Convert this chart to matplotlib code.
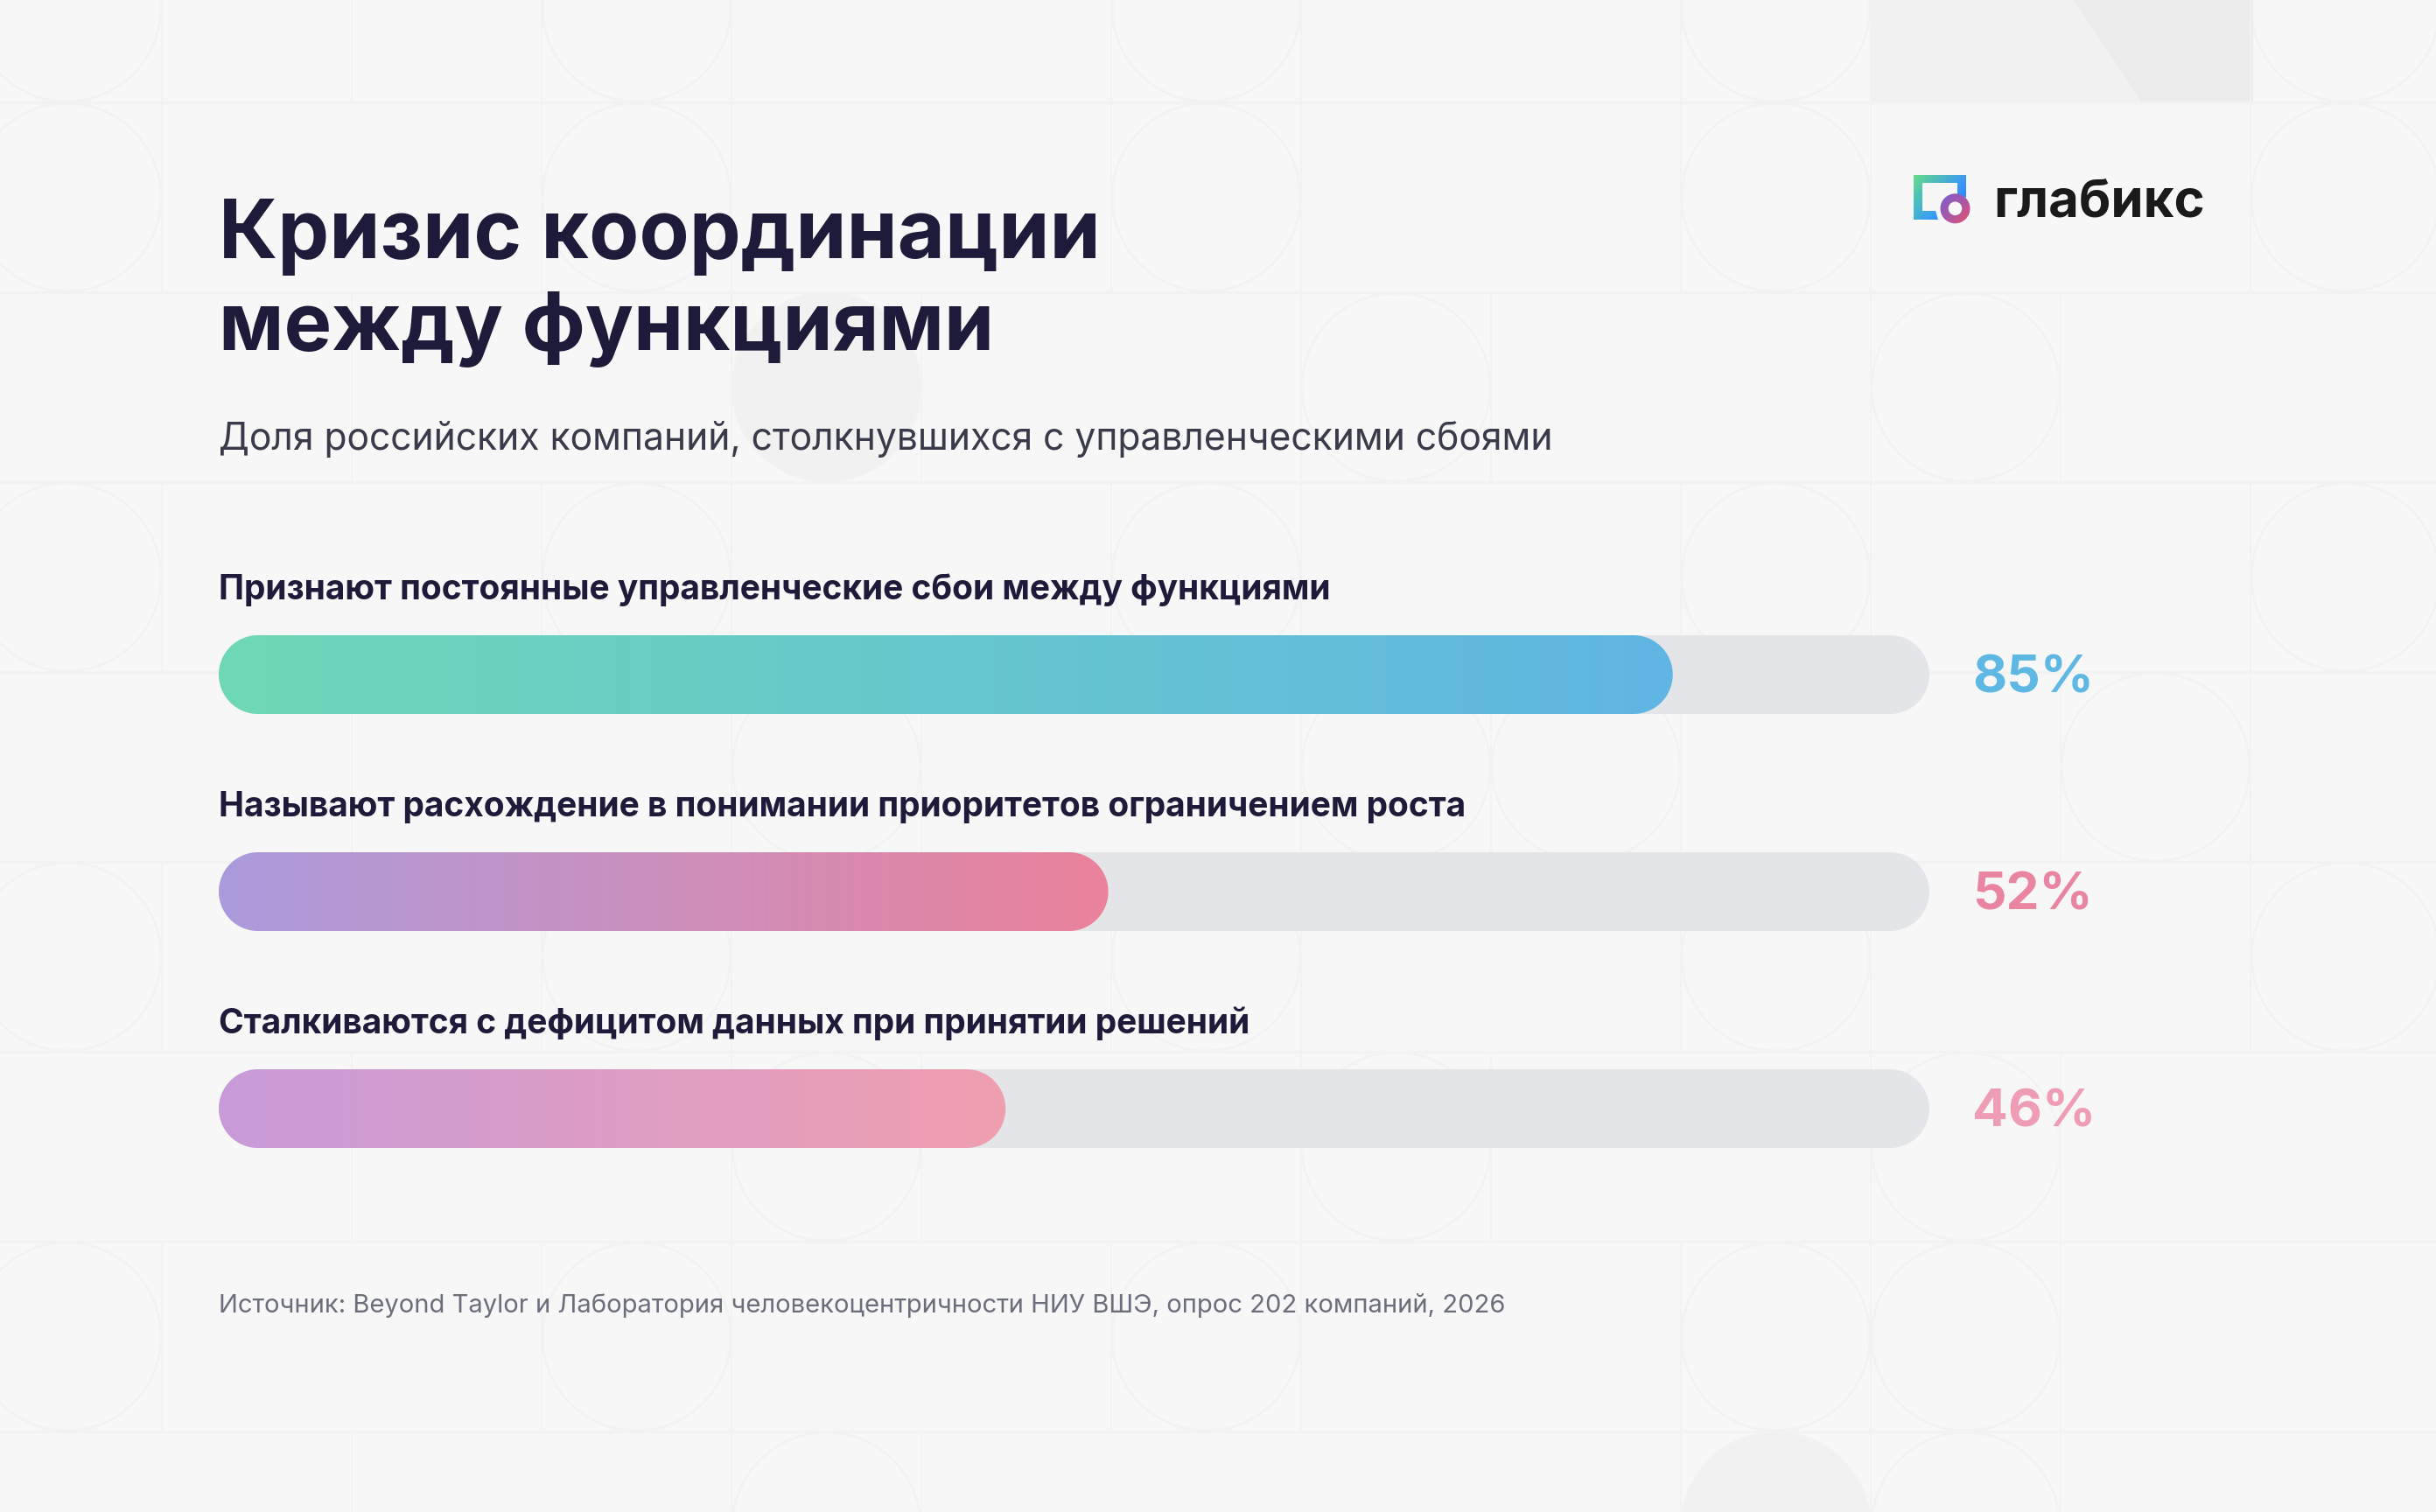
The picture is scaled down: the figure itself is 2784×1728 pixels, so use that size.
"""Кризис координации — горизонтальные полосы с градиентом на фоне из кругов и сетки."""
import matplotlib
matplotlib.use("Agg")
import matplotlib.pyplot as plt
import numpy as np
from matplotlib.colors import LinearSegmentedColormap, to_rgb
from matplotlib.patches import Circle, PathPatch, Polygon, Rectangle
from matplotlib.path import Path

TITLE = ["Кризис координации", "между функциями"]
SUBTITLE = "Доля российских компаний, столкнувшихся с управленческими сбоями"
SOURCE = "Источник: Beyond Taylor и Лаборатория человекоцентричности НИУ ВШЭ, опрос 202 компаний, 2026"
BRAND = "глабикс"

CATEGORIES = [
    "Признают постоянные управленческие сбои между функциями",
    "Называют расхождение в понимании приоритетов ограничением роста",
    "Сталкиваются с дефицитом данных при принятии решений",
]
VALUES = [85, 52, 46]
START_COLORS = ["#6ED8B6", "#AB9BDC", "#C89BD9"]
END_COLORS = ["#5FB6E4", "#EA829B", "#F09FB0"]
VALUE_COLORS = ["#5FB7E3", "#E985A1", "#EE9DB4"]

W, H = 2784, 1728
BG = "#F7F7F8"
LINE = "#F2F2F3"
FILLED = "#F1F1F2"
TRACK = "#E3E5E9"
FONT = "Inter"

plt.rcParams["font.family"] = [FONT, "DejaVu Sans"]

# сетка фона: шаг плитки и какие клетки заняты кругами (строка -> столбцы)
CELL = 217
X0, Y0 = 185, 117
CIRCLE_ROWS = {
    -1: [-1, 2, 5, 8, 11],
    0: [-1, 2, 5, 8, 11],
    1: [3, 6, 9],
    2: [-1, 2, 5, 8, 11],
    3: [3, 6, 7, 10],
    4: [-1, 2, 5, 8, 11],
    5: [3, 6, 9],
    6: [-1, 2, 5, 8, 9],
    7: [3, 8, 9],
}
FILLED_CELLS = [(1, 3), (7, 8)]


def pill(x0, x1, yc, rx, ry):
    """Контур полосы со скруглёнными концами."""
    t = np.linspace(np.pi / 2, -np.pi / 2, 40)
    right = np.c_[x1 - rx + rx * np.cos(t), yc - ry * np.sin(t)]
    left = np.c_[x0 + rx - rx * np.cos(t), yc + ry * np.sin(t)]
    return Path(np.r_[right, left, right[:1]], closed=True)


fig = plt.figure(figsize=(W / 100, H / 100), dpi=100, facecolor=BG)

# фон и подписи в пикселях
bg = fig.add_axes([0, 0, 1, 1], zorder=0)
bg.set_xlim(0, W)
bg.set_ylim(H, 0)
bg.axis("off")

for row, cols in CIRCLE_ROWS.items():
    ytop = Y0 + row * CELL
    edges = set()
    for col in cols:
        xleft = X0 + col * CELL
        edges.update([xleft, xleft + CELL])
        filled = (row, col) in FILLED_CELLS
        bg.add_patch(Circle((xleft + CELL / 2, ytop + CELL / 2), CELL / 2 - 1,
                            fc=FILLED if filled else "none", ec=LINE, lw=2.0))
    if row % 2:
        edges.add(X0 + CELL)
    for x in edges:
        bg.plot([x, x], [ytop, ytop + CELL], color=LINE, lw=1.4)
    bg.plot([0, W], [ytop + CELL, ytop + CELL], color=LINE, lw=2.4)

# блок в правом верхнем углу
bg.add_patch(Rectangle((2139, 0), 436, 118, fc="#F1F1F1", ec="none"))
bg.add_patch(Polygon([(2370, 0), (2575, 0), (2575, 118), (2449, 118)], fc="#EBEBEC", ec="none"))

# логотип
sq = np.zeros((32, 32, 3))
u, v = np.meshgrid(np.linspace(0, 1, 32), np.linspace(0, 1, 32))
green, blue, teal = map(lambda c: np.array(to_rgb(c)), ("#62DB8A", "#3E9BF0", "#43B0D8"))
for k in range(3):
    sq[..., k] = green[k] + (blue[k] - green[k]) * u + (teal[k] - green[k]) * v
im = bg.imshow(sq.clip(0, 1), extent=(2187, 2247, 251, 200), aspect="auto", zorder=3)
im.set_clip_path(Path([(2187, 200), (2247, 200), (2247, 226), (2237, 222), (2237, 209), (2197, 209),
                       (2197, 241), (2212, 241), (2215, 251), (2187, 251), (2187, 200)], closed=True),
                 transform=bg.transData)
ring = LinearSegmentedColormap.from_list("ring", ["#7A5CD2", "#A857A8", "#E8506C"])
im = bg.imshow((u + v) / 2, extent=(2217, 2252, 256, 221), aspect="auto", cmap=ring, zorder=4)
im.set_clip_path(Circle((2234.5, 238.3), 17, transform=bg.transData))
bg.add_patch(Circle((2234.5, 238.3), 7.8, fc=BG, ec="none", zorder=5))
bg.set_xlim(0, W)
bg.set_ylim(H, 0)

bg.text(2278, 247, BRAND, fontsize=43, fontweight="bold", color="#1A1A1A", va="baseline")

bg.text(250, 295, TITLE[0], fontsize=67.3, fontweight="bold", color="#1E1B3A", va="baseline")
bg.text(250, 400, TITLE[1], fontsize=66, fontweight="bold", color="#1E1B3A", va="baseline")
bg.text(250, 514, SUBTITLE, fontsize=30.7, color="#3A3B4A", va="baseline")
bg.text(250, 1500, SOURCE, fontsize=21, color="#6B6E7B", va="baseline")

# полосы: ось x в процентах, ось y по категориям
TRACK_LEFT, TRACK_RIGHT = 250, 2205
TOP_CENTER, PITCH, BAR_PX = 771, 248, 90
ax = fig.add_axes([TRACK_LEFT / W, 1 - (TOP_CENTER + 2.5 * PITCH) / H,
                   (TRACK_RIGHT - TRACK_LEFT) / W, 3 * PITCH / H], zorder=1)
ax.set_xlim(0, 100)
ax.set_ylim(2.5, -0.5)
ax.axis("off")
ry = BAR_PX / PITCH / 2
rx = BAR_PX / 2 * 100 / (TRACK_RIGHT - TRACK_LEFT)

for i, (name, val) in enumerate(zip(CATEGORIES, VALUES)):
    ax.add_patch(PathPatch(pill(0, 100, i, rx, ry), fc=TRACK, ec="none", zorder=1))
    cmap = LinearSegmentedColormap.from_list(f"bar{i}", [START_COLORS[i], END_COLORS[i]])
    im = ax.imshow(np.linspace(0, 1, 256)[None, :], cmap=cmap, aspect="auto",
                   extent=(0, val, i + ry, i - ry), zorder=2, clip_on=True)
    im.set_clip_path(pill(0, val, i, rx, ry), transform=ax.transData)
    ax.text(0, i - 86 / PITCH, name, fontsize=28.0, fontweight="bold", color="#1E1B3A",
            va="baseline", clip_on=False)
    ax.text(102.5, i + 20 / PITCH, f"{val}%", fontsize=43.4, fontweight="bold",
            color=VALUE_COLORS[i], va="baseline", clip_on=False)
ax.set_xlim(0, 100)
ax.set_ylim(2.5, -0.5)

fig.savefig("out.png", dpi=100, facecolor=BG)
